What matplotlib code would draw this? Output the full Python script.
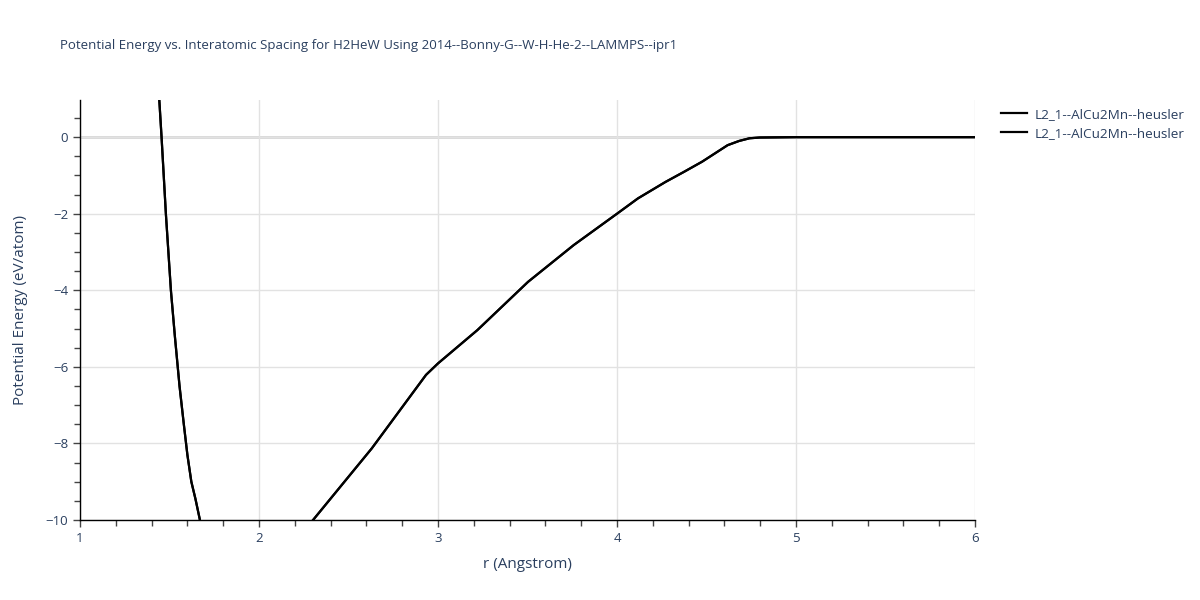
import numpy as np
import matplotlib
matplotlib.use('Agg')
import matplotlib.pyplot as plt
from matplotlib.ticker import MultipleLocator

# Data (r in Angstrom, energy in eV/atom)
r_left = [1.443, 1.456, 1.480, 1.508, 1.530, 1.556, 1.580, 1.600, 1.622, 1.645, 1.670]
e_left = [0.97, -0.03, -2.02, -4.01, -5.20, -6.50, -7.50, -8.30, -9.00, -9.45, -10.0]

r_right = [2.302, 2.630, 2.933, 3.000, 3.220, 3.503, 3.758, 4.003, 4.117,
           4.271, 4.373, 4.476, 4.618, 4.682, 4.740, 4.797, 5.000, 5.500, 6.000]
e_right = [-10.0, -8.13, -6.21, -5.91, -5.04, -3.78, -2.82, -1.99, -1.60,
           -1.17, -0.91, -0.64, -0.21, -0.10, -0.03, -0.01, 0.0, 0.0, 0.0]

r_all = r_left + [np.nan] + r_right
e_all = e_left + [np.nan] + e_right

series_names = ['L2_1--AlCu2Mn--heusler', 'L2_1--AlCu2Mn--heusler']

text_color = '#2a3f5f'
plt.rcParams['font.family'] = ['Open Sans', 'DejaVu Sans']

fig = plt.figure(figsize=(12, 6), dpi=100)
ax = fig.add_axes([80 / 1200, 1 - 520 / 600, 895 / 1200, 420 / 600])

for name in series_names:
    ax.plot(r_all, e_all, color='black', linewidth=1.6, label=name, zorder=3)

ax.set_xlim(1, 6)
ax.set_ylim(-10, 0.97)

ax.xaxis.set_major_locator(MultipleLocator(1))
ax.xaxis.set_minor_locator(MultipleLocator(0.2))
ax.yaxis.set_major_locator(MultipleLocator(2))
ax.yaxis.set_minor_locator(MultipleLocator(0.5))

ax.grid(True, which='major', color='#e2e2e2', linewidth=1.0, zorder=0)
ax.axhline(0, color='#d6d6d6', linewidth=2.0, zorder=1)

for s in ['top', 'right']:
    ax.spines[s].set_visible(False)
for s in ['left', 'bottom']:
    ax.spines[s].set_color('black')
    ax.spines[s].set_linewidth(1.0)

ax.tick_params(which='major', direction='out', length=5, width=1,
               color='#444444', labelcolor=text_color, labelsize=9.5)
ax.tick_params(which='minor', direction='out', length=4, width=1,
               color='#444444')

ax.set_xlabel('r (Angstrom)', fontsize=11, color=text_color, labelpad=9)
ax.set_ylabel('Potential Energy (eV/atom)', fontsize=11, color=text_color, labelpad=13)

fig.text(60 / 1200, 1 - 45 / 600, 'Potential Energy vs. Interatomic Spacing for H2HeW Using '
         '2014--Bonny-G--W-H-He-2--LAMMPS--ipr1',
         fontsize=9.5, color=text_color, va='center', ha='left')

ax.legend(loc='upper left', bbox_to_anchor=(1.015, 1.01), frameon=False,
          fontsize=9.7, labelcolor=text_color, handlelength=2.0,
          handletextpad=0.5, labelspacing=0.45)

fig.savefig('out.png', dpi=100)
